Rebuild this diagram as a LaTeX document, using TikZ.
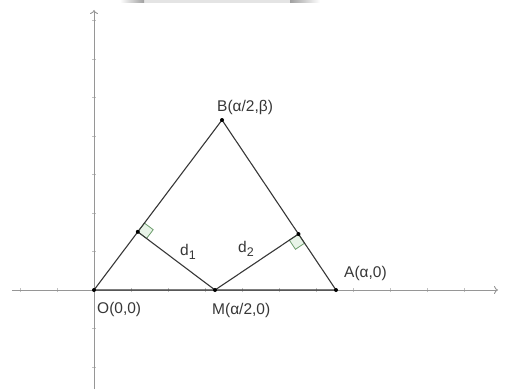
\documentclass[tikz,border=0pt]{standalone}
\usepackage{fontspec}
\setmainfont{Liberation Sans}
\usetikzlibrary{calc,arrows.meta}
\definecolor{axisgray}{RGB}{150,150,150}
\definecolor{linedark}{RGB}{55,55,55}
\definecolor{markgreen}{RGB}{105,155,105}
\definecolor{markfill}{RGB}{232,244,232}
\definecolor{bargray}{RGB}{228,228,228}
\definecolor{barend}{RGB}{160,160,160}

\newcommand{\sub}[1]{\raisebox{-4.5pt}{\fontsize{12.5}{13}\selectfont #1}}

\tikzset{
  axis/.style={draw=axisgray, line width=0.9pt, -{To[length=4pt,width=8pt]}},
  side/.style={draw=linedark, line width=1.1pt},
  dot/.style={circle, fill=black, inner sep=0pt, minimum size=4pt},
  lbl/.style={text=linedark, font=\fontsize{15.5}{17}\selectfont, inner sep=0pt},
  rmark/.style={draw=markgreen, fill=markfill, line width=0.8pt},
}

\begin{document}
\begin{tikzpicture}[x=1pt,y=1pt]
    \useasboundingbox (-94,-99) rectangle (411,290);
    \fill[bargray] (26,287) rectangle (226,290);
    \shade[left color=white, right color=barend] (26,287) rectangle (50,290);
    \shade[left color=barend, right color=white] (196,287) rectangle (226,290);
    % axes with ticks
    \foreach \i in {-2,...,10} \draw[axisgray!60] (\i*37,-2) -- (\i*37,2);
    \foreach \j in {-2,...,7} \draw[axisgray!60] (-2,\j*38.5) -- (2,\j*38.5);
    \coordinate (xs) at (-82,0);
    \coordinate (xe) at (404,0);
    \coordinate (ys) at (0,-99);
    \coordinate (ye) at (0,280);
    \draw[axis] (xs) -- (xe);
    \draw[axis] (ys) -- (ye);
    % triangle
    \coordinate (O) at (0,0);
    \coordinate (M) at (121,0);
    \coordinate (A) at (242,0);
    \coordinate (B) at (128,170);
    \coordinate (F1) at ($(O)!(M)!(B)$);
    \coordinate (F2) at ($(A)!(M)!(B)$);
    % right angles
    \coordinate (r1) at ($(F1)!11pt!(B)$);
    \coordinate (r2) at ($(F1)!11pt!(M)$);
    \draw[rmark] (F1) -- (r1) -- ($(r1)+(r2)-(F1)$) -- (r2) -- cycle;
    \coordinate (s1) at ($(F2)!11pt!(A)$);
    \coordinate (s2) at ($(F2)!11pt!(M)$);
    \draw[rmark] (F2) -- (s1) -- ($(s1)+(s2)-(F2)$) -- (s2) -- cycle;
    \draw[side] (O) -- (B) -- (A) -- cycle;
    \draw[side] (F1) -- (M) -- (F2);
    % points
    \foreach \p in {O,M,A,B,F1,F2} \node[dot] at (\p) {};
    % labels
    \node[lbl, anchor=base west] (labB) at ($(B)+(-5,9)$) {B(α/2,β)};
    \node[lbl, anchor=base west] (labO) at ($(O)+(3,-23)$) {O(0,0)};
    \node[lbl, anchor=base west] (labM) at ($(M)+(-3,-24)$) {M(α/2,0)};
    \node[lbl, anchor=base west] (labA) at ($(A)+(8,13)$) {A(α,0)};
    \node[lbl, anchor=base west] (labd1) at (86,35) {d\sub{1}};
    \node[lbl, anchor=base west] (labd2) at (144,38) {d\sub{2}};
\end{tikzpicture}
\end{document}
